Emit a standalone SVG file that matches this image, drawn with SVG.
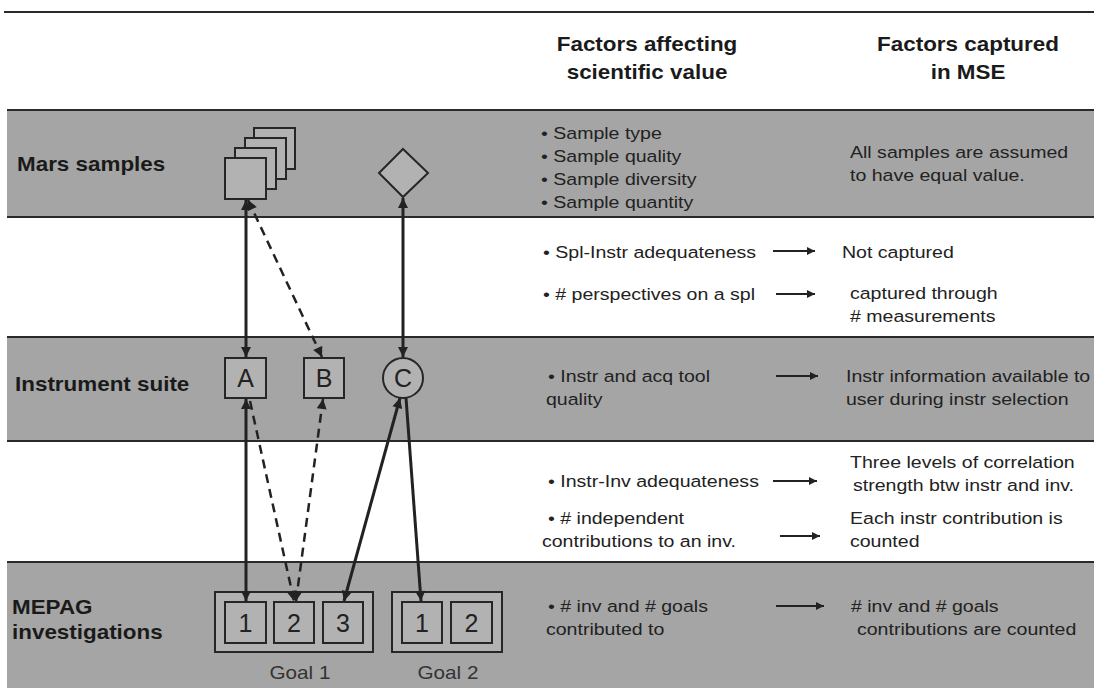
<svg xmlns="http://www.w3.org/2000/svg" width="1094" height="688" viewBox="0 0 1094 688">
<style>
.band{fill:#a5a5a5}
.rule{stroke:#2a2a2a;stroke-width:2;fill:none}
.hdr{font-family:"Liberation Sans",Arial,sans-serif;font-weight:bold;font-size:19.5px;fill:#1a1a1a;text-anchor:middle}
.lbl{font-family:"Liberation Sans",Arial,sans-serif;font-weight:bold;font-size:19.5px;fill:#1a1a1a}
.txt{font-family:"Liberation Sans",Arial,sans-serif;font-size:17px;fill:#222}
.node{fill:#b2b2b2;stroke:#262626;stroke-width:2}
.nlab{font-family:"Liberation Sans",Arial,sans-serif;font-size:25px;fill:#222;text-anchor:middle}
.goal{font-family:"Liberation Sans",Arial,sans-serif;font-size:18px;fill:#333;text-anchor:middle}
.con{stroke:#222;stroke-width:3;fill:none}
.dash{stroke:#222;stroke-width:2.5;fill:none;stroke-dasharray:9 6}
.sarr{stroke:#222;stroke-width:2;fill:none}
</style>
<defs>
<marker id="ah" viewBox="0 0 10 10" refX="10" refY="5" markerWidth="11" markerHeight="10" markerUnits="userSpaceOnUse" orient="auto-start-reverse">
<path d="M0,0 L10,5 L0,10 z" fill="#222"/>
</marker>
<marker id="ahs" viewBox="0 0 10 10" refX="10" refY="5" markerWidth="10" markerHeight="8" markerUnits="userSpaceOnUse" orient="auto">
<path d="M0,0 L10,5 L0,10 z" fill="#222"/>
</marker>
</defs>
<rect width="1094" height="688" fill="#ffffff"/>
<g id="bands">
<line class="rule" x1="4" y1="12" x2="1094" y2="12"/>
<rect class="band" x="7" y="110" width="1087" height="107"/>
<rect class="band" x="7" y="337" width="1087" height="104"/>
<rect class="band" x="7" y="562" width="1087" height="126"/>
<line class="rule" x1="7" y1="110" x2="1094" y2="110"/>
<line class="rule" x1="7" y1="217" x2="1094" y2="217"/>
<line class="rule" x1="7" y1="337" x2="1094" y2="337"/>
<line class="rule" x1="7" y1="441" x2="1094" y2="441"/>
<line class="rule" x1="7" y1="562" x2="1094" y2="562"/>
</g>
<g id="headers">
<text class="hdr" transform="translate(647 51) scale(1.15 1)">Factors affecting</text>
<text class="hdr" transform="translate(647 79) scale(1.15 1)">scientific value</text>
<text class="hdr" transform="translate(968 51) scale(1.15 1)">Factors captured</text>
<text class="hdr" transform="translate(968 79) scale(1.15 1)">in MSE</text>
</g>
<g id="row-labels">
<text class="lbl" transform="translate(17 171) scale(1.15 1)">Mars samples</text>
<text class="lbl" transform="translate(15 391) scale(1.15 1)">Instrument suite</text>
<text class="lbl" transform="translate(12 614) scale(1.15 1)">MEPAG</text>
<text class="lbl" transform="translate(12 639) scale(1.15 1)">investigations</text>
</g>
<g id="samples">
<rect class="node" x="254" y="128" width="41" height="41"/>
<rect class="node" x="245" y="138" width="41" height="41"/>
<rect class="node" x="235" y="148" width="41" height="41"/>
<rect class="node" x="225" y="158" width="41" height="41"/>
</g>
<g id="diamond">
<polygon class="node" points="403,149 428,173 403,197 379,173"/>
</g>
<g id="instrA">
<rect class="node" x="225" y="358" width="41" height="40"/>
<text class="nlab" x="245.5" y="387">A</text>
</g>
<g id="instrB">
<rect class="node" x="304" y="358" width="40" height="40"/>
<text class="nlab" x="324" y="387">B</text>
</g>
<g id="instrC">
<circle class="node" cx="403" cy="378" r="20"/>
<text class="nlab" x="403" y="387">C</text>
</g>
<g id="goal1">
<rect class="node" x="215" y="592" width="158" height="60"/>
<rect class="node" x="225" y="602" width="41" height="41"/>
<rect class="node" x="274" y="602" width="40" height="41"/>
<rect class="node" x="323" y="602" width="40" height="41"/>
<text class="nlab" x="245.5" y="632">1</text>
<text class="nlab" x="294" y="632">2</text>
<text class="nlab" x="343" y="632">3</text>
<text class="goal" transform="translate(300 679) scale(1.15 1)">Goal 1</text>
</g>
<g id="goal2">
<rect class="node" x="392" y="592" width="110" height="60"/>
<rect class="node" x="402" y="602" width="40" height="41"/>
<rect class="node" x="451" y="602" width="41" height="41"/>
<text class="nlab" x="422" y="632">1</text>
<text class="nlab" x="471.5" y="632">2</text>
<text class="goal" transform="translate(448 679) scale(1.15 1)">Goal 2</text>
</g>
<g id="connectors">
<line class="con" x1="246" y1="200" x2="246" y2="357" marker-start="url(#ah)" marker-end="url(#ah)"/>
<line class="dash" x1="248" y1="200" x2="322" y2="357" marker-start="url(#ah)" marker-end="url(#ah)"/>
<line class="con" x1="403" y1="198" x2="403" y2="357" marker-start="url(#ah)" marker-end="url(#ah)"/>
<line class="con" x1="246" y1="399" x2="246" y2="601" marker-start="url(#ah)" marker-end="url(#ah)"/>
<line class="dash" x1="250" y1="401" x2="294" y2="601" marker-end="url(#ah)"/>
<line class="dash" x1="323" y1="399" x2="296" y2="601" marker-start="url(#ah)" marker-end="url(#ah)"/>
<line class="con" x1="400" y1="398" x2="344" y2="601" marker-start="url(#ah)" marker-end="url(#ah)"/>
<line class="con" x1="406" y1="398" x2="421" y2="601" marker-end="url(#ah)"/>
<line class="sarr" x1="773" y1="251" x2="815" y2="251" marker-end="url(#ahs)"/>
<line class="sarr" x1="776" y1="294" x2="815" y2="294" marker-end="url(#ahs)"/>
<line class="sarr" x1="776" y1="376" x2="818" y2="376" marker-end="url(#ahs)"/>
<line class="sarr" x1="773" y1="481" x2="817" y2="481" marker-end="url(#ahs)"/>
<line class="sarr" x1="780" y1="536" x2="820" y2="536" marker-end="url(#ahs)"/>
<line class="sarr" x1="776" y1="606" x2="824" y2="606" marker-end="url(#ahs)"/>
</g>
<g id="factors-text">
<text class="txt" transform="translate(541 139) scale(1.15 1)">• Sample type</text>
<text class="txt" transform="translate(541 162) scale(1.15 1)">• Sample quality</text>
<text class="txt" transform="translate(541 185) scale(1.15 1)">• Sample diversity</text>
<text class="txt" transform="translate(541 208) scale(1.15 1)">• Sample quantity</text>
<text class="txt" transform="translate(850 158) scale(1.15 1)">All samples are assumed</text>
<text class="txt" transform="translate(850 181) scale(1.15 1)">to have equal value.</text>
<text class="txt" transform="translate(543 258) scale(1.15 1)">• Spl-Instr adequateness</text>
<text class="txt" transform="translate(842 258) scale(1.15 1)">Not captured</text>
<text class="txt" transform="translate(543 300) scale(1.15 1)">• # perspectives on a spl</text>
<text class="txt" transform="translate(850 299) scale(1.15 1)">captured through</text>
<text class="txt" transform="translate(850 322) scale(1.15 1)"># measurements</text>
<text class="txt" transform="translate(548 382) scale(1.15 1)">• Instr and acq tool</text>
<text class="txt" transform="translate(546 405) scale(1.15 1)">quality</text>
<text class="txt" transform="translate(846 382) scale(1.15 1)">Instr information available to</text>
<text class="txt" transform="translate(846 405) scale(1.15 1)">user during instr selection</text>
<text class="txt" transform="translate(548 487) scale(1.15 1)">• Instr-Inv adequateness</text>
<text class="txt" transform="translate(850 468) scale(1.15 1)">Three levels of correlation</text>
<text class="txt" transform="translate(853 491) scale(1.15 1)">strength btw instr and inv.</text>
<text class="txt" transform="translate(548 524) scale(1.15 1)">• # independent</text>
<text class="txt" transform="translate(542 547) scale(1.15 1)">contributions to an inv.</text>
<text class="txt" transform="translate(850 524) scale(1.15 1)">Each instr contribution is</text>
<text class="txt" transform="translate(850 547) scale(1.15 1)">counted</text>
<text class="txt" transform="translate(548 612) scale(1.15 1)">• # inv and # goals</text>
<text class="txt" transform="translate(546 635) scale(1.15 1)">contributed to</text>
<text class="txt" transform="translate(851 612) scale(1.15 1)"># inv and # goals</text>
<text class="txt" transform="translate(857 635) scale(1.15 1)">contributions are counted</text>
</g>
</svg>
